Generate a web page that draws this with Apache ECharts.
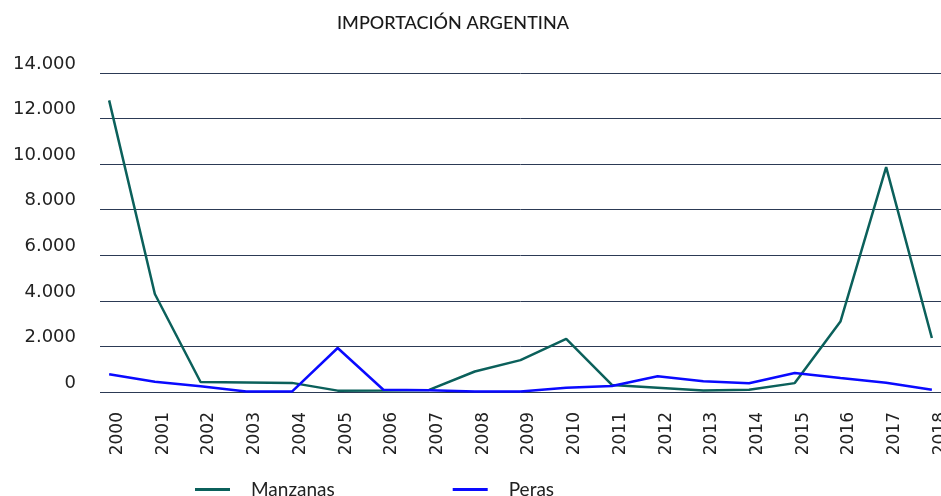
<!DOCTYPE html>
<html>
<head>
<meta charset="utf-8">
<script src="https://cdn.jsdelivr.net/npm/echarts@6/dist/echarts.min.js"></script>
<style>
    html, body { margin: 0; padding: 0; background: #fff; }
    #chart { width: 941px; height: 496px; }
</style>
</head>
<body>
<div id="chart"></div>
<script>
var anos = ['2000', '2001', '2002', '2003', '2004', '2005', '2006', '2007', '2008', '2009',
    '2010', '2011', '2012', '2013', '2014', '2015', '2016', '2017', '2018'];
var manzanas = [12800, 4300, 440, 420, 400, 60, 70, 90, 900, 1400,
    2330, 310, 190, 70, 100, 390, 3090, 9870, 2370];
var peras = [780, 450, 250, 20, 20, 1930, 100, 80, 20, 20,
    190, 260, 690, 470, 380, 830, 610, 410, 100];

function pares(valores) {
    return valores.map(function (v, i) { return [i, v]; });
}

var chartDom = document.getElementById('chart');
var myChart = echarts.init(chartDom);
var option;

option = {
    animation: false,
    title: {
        text: 'IMPORTACIÓN ARGENTINA',
        left: 332,
        top: 9,
        textStyle: {
            fontFamily: 'Lato',
            fontSize: 18,
            fontWeight: 500,
            color: '#1a1a1a'
        }
    },
    grid: {
        left: 100,
        right: 0,
        top: 73,
        bottom: 104,
        containLabel: false,
        outerBoundsMode: 'none'
    },
    legend: {
        data: ['Manzanas', 'Peras'],
        left: 190,
        top: 475,
        icon: 'rect',
        itemWidth: 35,
        itemHeight: 3,
        itemGap: 118,
        textStyle: {
            fontFamily: 'Lato',
            fontSize: 19,
            color: '#222',
            padding: [0, 0, 0, 16]
        }
    },
    xAxis: {
        type: 'value',
        min: -0.2,
        max: 18.2,
        splitLine: { show: false },
        axisLine: { show: false },
        axisTick: { show: false },
        axisLabel: {
            customValues: anos.map(function (a, i) { return i; }),
            rotate: 90,
            margin: 20,
            verticalAlign: 'top',
            fontFamily: 'DejaVu Sans',
            fontSize: 17,
            color: '#222',
            formatter: function (value) {
                return anos[Math.round(value)];
            }
        }
    },
    yAxis: {
        type: 'value',
        min: 0,
        max: 14000,
        interval: 2000,
        axisLine: { show: false },
        axisTick: { show: false },
        splitLine: {
            lineStyle: { color: '#2c3a55', width: 1 }
        },
        axisLabel: {
            margin: 24,
            verticalAlign: 'bottom',
            fontFamily: 'DejaVu Sans',
            fontSize: 18,
            color: '#222',
            formatter: function (value) {
                return value.toLocaleString('es-AR');
            }
        }
    },
    series: [
        {
            name: 'Manzanas',
            type: 'line',
            data: pares(manzanas),
            showSymbol: false,
            color: '#0b605b',
            lineStyle: { width: 2.5 },
            smooth: false
        },
        {
            name: 'Peras',
            type: 'line',
            data: pares(peras),
            showSymbol: false,
            color: '#0a0aff',
            lineStyle: { width: 2.5 },
            smooth: false
        }
    ]
};

option && myChart.setOption(option);
</script>
</body>
</html>
